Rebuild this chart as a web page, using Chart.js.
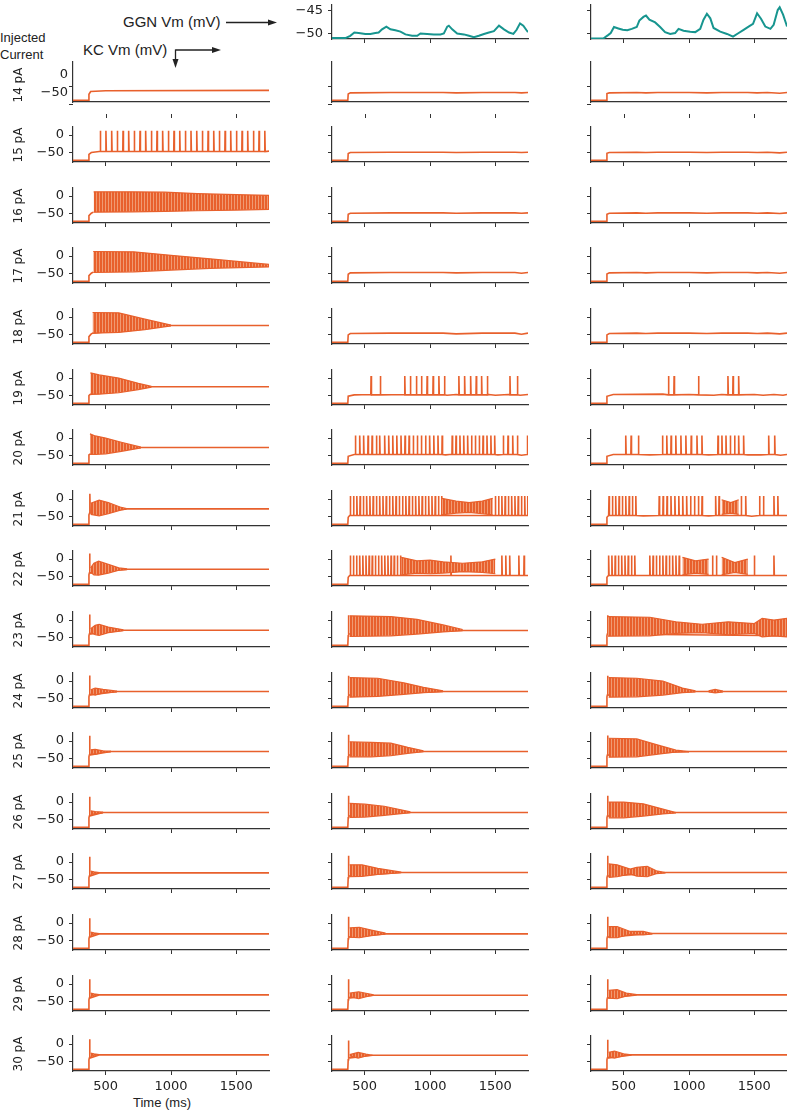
<!DOCTYPE html>
<html><head><meta charset="utf-8">
<script src="https://cdn.jsdelivr.net/npm/chart.js@4.4.0/dist/chart.umd.min.js"></script>
<style>
html,body{margin:0;padding:0;background:#fff;width:787px;height:1111px;overflow:hidden;position:relative}
canvas{position:absolute}
.t{position:absolute;font-family:"Liberation Sans",Arial,sans-serif;color:#222;white-space:nowrap}
.rl{position:absolute;font-family:"DejaVu Sans",sans-serif;font-size:12px;color:#222;width:60px;height:14px;line-height:14px;text-align:center;transform:rotate(-90deg);white-space:nowrap}
</style></head><body>
<div class="t" style="left:0px;top:30px;font-size:13px;line-height:16px">Injected</div>
<div class="t" style="left:0px;top:47px;font-size:13px;line-height:16px">Current</div>
<div class="t" style="left:123px;top:13px;font-size:15px;line-height:18px">GGN Vm (mV)</div>
<div class="t" style="left:83px;top:41px;font-size:15px;line-height:18px">KC Vm (mV)</div>
<div class="t" style="left:133px;top:1095px;font-size:13px;line-height:16px">Time (ms)</div>
<svg style="position:absolute;left:0;top:0;z-index:5" width="300" height="80">
 <line x1="226" y1="22.5" x2="269" y2="22.5" stroke="#222" stroke-width="1.3"/>
 <polygon points="277,22.5 268,19.5 268,25.5" fill="#222"/>
 <line x1="175.5" y1="49.5" x2="175.5" y2="60" stroke="#222" stroke-width="1.3"/>
 <polygon points="175.5,68 172.5,59 178.5,59" fill="#222"/>
 <line x1="175.5" y1="50" x2="213" y2="50" stroke="#222" stroke-width="1.3"/>
 <polygon points="221,50 212,47 212,53" fill="#222"/>
</svg>
<script>
// ---------------- DATA ----------------
const currents = [14,15,16,17,18,19,20,21,22,23,24,25,26,27,28,29,30];
const xTicks = [500, 1000, 1500];
const kcTicks = [-50, 0];
const ggnTicks = [-50, -45];

// GGN membrane potential (columns 2 and 3)
const ggnTime2 = [250,352,390,421,454,505,544,582,607,633,666,697,735,774,812,863,902,927,978,1029,1080,1106,1132,1144,1170,1208,1259,1298,1336,1374,1413,1451,1489,1528,1566,1605,1638,1663,1689,1714,1739,1750];
const ggnVm2 = [-51.0,-51.0,-50.5,-49.8,-49.9,-50.1,-50.1,-49.9,-49.8,-49.1,-48.5,-49.1,-49.3,-49.6,-50.2,-50.5,-50.5,-50.0,-50.1,-50.2,-50.2,-50.0,-48.5,-48.3,-49.1,-50.0,-50.2,-50.5,-50.8,-50.5,-50.1,-49.8,-49.5,-48.3,-49.1,-49.8,-50.1,-49.2,-47.8,-48.3,-49.3,-49.7];
const ggnTime3 = [250,344,383,401,426,459,493,528,562,600,620,651,671,697,741,779,817,856,894,920,958,1009,1048,1086,1111,1137,1163,1188,1239,1291,1337,1380,1418,1456,1490,1521,1551,1584,1623,1648,1679,1694,1720,1746,1750];
const ggnVm3 = [-51.1,-51.1,-50.3,-49.9,-48.6,-48.9,-49.2,-49.3,-49.0,-48.6,-47.2,-46.4,-46.1,-47.0,-47.6,-48.6,-49.7,-50.1,-49.9,-49.0,-49.4,-49.6,-49.7,-49.0,-47.0,-45.7,-46.7,-48.8,-49.6,-50.1,-50.7,-49.9,-49.2,-48.5,-47.9,-45.6,-46.8,-48.5,-49.0,-48.1,-44.9,-44.3,-45.9,-48.1,-48.5];

// KC traces, column 1 (KC alone): sub-threshold path [t, mV]
const c1Base = [
 [[250,-72],[369,-72],[372,-55],[385,-47],[500,-45],[1750,-44]],
 [[250,-72],[369,-72],[372,-55],[390,-50],[450,-47],[1750,-46]],
 [[250,-72],[369,-72],[372,-56],[390,-49],[406,-46]],
 [[250,-72],[369,-72],[372,-56],[390,-49],[404,-46]],
 [[250,-72],[369,-72],[372,-56],[388,-49],[399,-46],[1000,-24],[1750,-24]],
 [[250,-72],[369,-72],[372,-50],[380,-47],[850,-25],[1750,-25]],
 [[250,-72],[369,-72],[372,-48],[378,-46],[770,-27],[1750,-27]],
 [[250,-72],[369,-72],[372,-45],[660,-28],[1750,-28]],
 [[250,-72],[369,-72],[372,-45],[664,-29],[1750,-29]],
 [[250,-72],[369,-72],[372,-45],[636,-29],[1750,-29]],
 [[250,-72],[369,-72],[372,-45],[587,-30],[1750,-30]],
 [[250,-72],[369,-72],[372,-45],[540,-30],[1750,-30]],
 [[250,-72],[369,-72],[372,-45],[480,-30],[1750,-30]],
 [[250,-72],[369,-72],[372,-45],[450,-31],[1750,-31]],
 [[250,-72],[369,-72],[372,-45],[450,-31],[1750,-31]],
 [[250,-72],[369,-72],[372,-45],[450,-31],[1750,-31]],
 [[250,-72],[369,-72],[372,-45],[450,-31],[1750,-31]]
];
const c1Spikes = [
 [],
 [459,502,546,589,633,676,719,763,806,850,893,936,980,1023,1067,1110,1153,1197,1240,1284,1327,1370,1414,1457,1501,1544,1587,1631,1674,1718],
 [],[],[],[],[],
 [379],[377],[377],[377],[377],[377],[377],[377],[377],[377]
];
const c1Peak =   [0,12,0,0,0,0,0,15,16,16,16,15,15,15,14,14,14];
const c1Trough = [0,-47,0,0,0,0,0,-40,-40,-40,-40,-40,-40,-40,-40,-40,-40];
const c1Band = [
 [],[],
 [[[408,12,-46],[700,12,-45],[950,11,-44],[1200,7,-42],[1500,4,-40],[1750,2,-38]]],
 [[[405,13,-47],[715,12,-45],[1000,2,-40],[1300,-8,-35],[1750,-24,-31]]],
 [[[400,13,-46],[600,12,-44],[800,-6,-36],[1000,-23,-25]]],
 [[[383,15,-46],[450,9,-46],[600,0,-42],[750,-15,-33],[850,-24,-26]]],
 [[[380,12,-46],[420,6,-47],[500,0,-45],[620,-12,-38],[770,-26,-28]]],
 [[[385,-12,-44],[450,-3,-48],[520,-10,-42],[620,-24,-31],[660,-27,-29]]],
 [[[385,-25,-38],[410,-12,-45],[446,-6,-46],[520,-15,-40],[600,-25,-32],[664,-28,-30]]],
 [[[385,-25,-35],[420,-15,-42],[450,-12,-44],[520,-20,-36],[636,-28,-30]]],
 [[[385,-25,-35],[420,-20,-40],[480,-24,-34],[587,-29,-31]]],
 [[[385,-25,-35],[420,-24,-38],[480,-28,-32],[540,-29,-31]]],
 [[[385,-25,-36],[420,-27,-34],[480,-29,-31]]],
 [[[385,-26,-36],[410,-28,-32],[450,-30,-32]]],
 [[[385,-26,-36],[410,-28,-32],[450,-30,-32]]],
 [[[385,-26,-36],[410,-28,-32],[450,-30,-32]]],
 [[[385,-26,-36],[410,-28,-32],[450,-30,-32]]]
];

// KC traces, column 2
const c2Base = [
 [[250,-72],[371,-72],[374,-54],[390,-51],[700,-50],[1100,-50],[1200,-51],[1400,-50],[1650,-50],[1700,-51],[1750,-50]],
 [[250,-72],[371,-72],[374,-53],[390,-50],[700,-49],[1100,-49],[1200,-50],[1400,-49],[1650,-49],[1700,-50],[1750,-49]],
 [[250,-72],[371,-72],[374,-52],[390,-49],[700,-48],[1100,-48],[1200,-49],[1400,-48],[1650,-48],[1700,-49],[1750,-48]],
 [[250,-72],[371,-72],[374,-52],[390,-48],[700,-47],[1100,-47],[1200,-48],[1400,-47],[1650,-47],[1700,-49],[1750,-47]],
 [[250,-72],[371,-72],[374,-51],[390,-47],[700,-46],[1100,-46],[1200,-48],[1400,-46],[1650,-46],[1700,-49],[1750,-46]],
 [[250,-72],[371,-72],[374,-52],[420,-48],[540,-47],[800,-47],[1130,-49],[1200,-47],[1450,-47],[1500,-49],[1600,-47],[1690,-49],[1750,-47]],
 [[250,-72],[371,-72],[374,-52],[420,-47],[1120,-48],[1150,-47],[1520,-48],[1700,-49],[1750,-47]],
 [[250,-72],[371,-72],[374,-52],[385,-47],[1100,-47],[1480,-47],[1750,-47]],
 [[250,-72],[371,-72],[374,-52],[385,-47],[1100,-47],[1480,-47],[1750,-47]],
 [[250,-72],[371,-72],[374,-45],[1250,-30],[1750,-30]],
 [[250,-72],[371,-72],[374,-45],[1100,-30],[1750,-30]],
 [[250,-72],[371,-72],[374,-45],[950,-30],[1750,-30]],
 [[250,-72],[371,-72],[374,-45],[850,-30],[1750,-30]],
 [[250,-72],[371,-72],[374,-45],[780,-30],[1750,-30]],
 [[250,-72],[371,-72],[374,-45],[660,-31],[1750,-31]],
 [[250,-72],[371,-72],[374,-45],[569,-32],[1750,-32]],
 [[250,-72],[371,-72],[374,-45],[560,-32],[1750,-32]]
];
const c2Spikes = [
 [],[],[],[],[],
 [549,620,807,850,896,935,978,1024,1068,1111,1221,1265,1311,1354,1395,1439,1612,1669],
 [429,462,492,526,557,590,615,653,684,715,746,778,809,840,872,903,934,966,997,1029,1061,1093,1170,1199,1229,1258,1288,1318,1347,1377,1406,1436,1466,1495,1561,1597,1633,1669,1745],
 [390,415,440,465,490,515,540,565,590,615,640,665,690,715,740,765,790,815,840,865,890,915,940,965,990,1015,1040,1065,1090,1500,1525,1550,1575,1600,1625,1650,1675,1700,1725,1748],
 [390,414,438,462,486,510,534,558,582,606,630,654,678,702,726,750,774,1160,1550,1580,1610,1680,1720],
 [377],[377],[377],[377],[377],[377],[377],[377]
];
const c2Peak =   [0,0,0,0,0,6,7,9,10,14,15,18,18,18,18,14,10];
const c2Trough = [0,0,0,0,0,-48,-47,-47,-47,-40,-40,-40,-40,-40,-40,-40,-40];
const c2Band = [
 [],[],[],[],[],[],[],
 [[[1090,2,-45],[1200,-6,-40],[1300,-10,-38],[1400,-6,-42],[1480,2,-45]]],
 [[[780,5,-45],[900,-5,-40],[1000,-3,-42],[1100,-8,-40],[1250,-12,-36],[1400,-8,-38],[1500,0,-42]]],
 [[[385,12,-47],[700,10,-45],[900,2,-40],[1100,-14,-34],[1250,-27,-30]]],
 [[[385,10,-46],[600,8,-44],[800,-5,-38],[950,-18,-33],[1100,-28,-30]]],
 [[[385,-2,-45],[550,-4,-45],[700,-6,-42],[830,-18,-35],[950,-28,-30]]],
 [[[385,-4,-44],[500,-6,-43],[650,-12,-38],[850,-28,-30]]],
 [[[385,-8,-42],[480,-8,-41],[600,-18,-35],[780,-29,-30]]],
 [[[385,-14,-40],[460,-12,-42],[550,-20,-36],[660,-29,-31]]],
 [[[385,-26,-36],[454,-22,-42],[520,-27,-35],[569,-31,-32]]],
 [[[385,-30,-34],[450,-24,-40],[510,-29,-34],[560,-32,-32]]]
];

// KC traces, column 3
const c3Base = [
 [[250,-72],[369,-72],[372,-53],[390,-51],[600,-50],[670,-51],[760,-50],[1000,-50],[1137,-51],[1250,-50],[1450,-50],[1521,-51],[1600,-50],[1694,-52],[1750,-50]],
 [[250,-72],[369,-72],[372,-52],[390,-50],[600,-49],[670,-50],[760,-49],[1000,-49],[1137,-50],[1250,-49],[1450,-49],[1521,-50],[1600,-49],[1694,-51],[1750,-49]],
 [[250,-72],[369,-72],[372,-52],[390,-49],[600,-48],[670,-49],[760,-48],[1000,-48],[1137,-49],[1250,-48],[1450,-48],[1521,-49],[1600,-48],[1694,-50],[1750,-48]],
 [[250,-72],[369,-72],[372,-51],[390,-48],[600,-47],[670,-48],[760,-47],[1000,-47],[1137,-48],[1250,-47],[1450,-47],[1521,-48],[1600,-47],[1694,-49],[1750,-47]],
 [[250,-72],[369,-72],[372,-51],[390,-47],[600,-46],[670,-47],[760,-46],[1000,-46],[1137,-47],[1250,-46],[1450,-46],[1521,-47],[1600,-46],[1694,-48],[1750,-46]],
 [[250,-72],[369,-72],[372,-52],[420,-47],[800,-46],[1000,-47],[1190,-49],[1250,-47],[1500,-47],[1567,-49],[1650,-47],[1720,-49],[1750,-47]],
 [[250,-72],[369,-72],[372,-52],[420,-47],[700,-48],[1150,-48],[1450,-48],[1550,-48],[1700,-49],[1750,-47]],
 [[250,-72],[369,-72],[372,-52],[385,-47],[650,-48],[1150,-48],[1480,-49],[1750,-47]],
 [[250,-72],[369,-72],[372,-52],[385,-47],[1750,-47]],
 [[250,-72],[369,-72],[372,-45],[1750,-45]],
 [[250,-72],[369,-72],[372,-45],[1050,-30],[1750,-30]],
 [[250,-72],[369,-72],[372,-45],[1000,-30],[1750,-30]],
 [[250,-72],[369,-72],[372,-45],[900,-30],[1750,-30]],
 [[250,-72],[369,-72],[372,-45],[820,-30],[1750,-30]],
 [[250,-72],[369,-72],[372,-45],[720,-30],[1750,-30]],
 [[250,-72],[369,-72],[372,-45],[600,-31],[1750,-31]],
 [[250,-72],[369,-72],[372,-45],[560,-31],[1750,-31]]
];
const c3Spikes = [
 [],[],[],[],[],
 [843,886,1073,1298,1337,1380],
 [516,557,613,797,830,863,899,938,976,1017,1061,1099,1222,1252,1283,1316,1349,1380,1418,1610,1656],
 [388,414,439,465,490,516,542,567,593,772,802,832,862,892,922,952,982,1012,1042,1072,1100,1204,1230,1400,1434,1540,1570,1650,1680],
 [385,410,435,460,485,510,535,560,585,700,725,750,775,800,825,850,875,900,925,1180,1210,1500,1650],
 [377],[377],[377],[377],[377],[377],[377],[377]
];
const c3Peak =   [0,0,0,0,0,6,7,9,10,14,15,16,18,18,18,14,12];
const c3Trough = [0,0,0,0,0,-48,-47,-47,-47,-40,-40,-40,-40,-40,-40,-40,-40];
const c3Band = [
 [],[],[],[],[],[],[],
 [[[1250,-2,-44],[1320,-10,-40],[1380,-2,-44]]],
 [[[950,5,-45],[1050,-5,-40],[1150,0,-44]],[[1250,5,-45],[1350,-10,-38],[1450,0,-44]]],
 [[[380,10,-46],[700,8,-45],[900,-5,-38],[1100,-12,-36],[1300,-5,-42],[1500,-10,-38],[1560,5,-48],[1650,0,-45],[1750,5,-48]]],
 [[[385,10,-46],[600,8,-45],[800,0,-40],[950,-20,-33],[1050,-28,-31]],[[1150,-28,-31],[1200,-24,-34],[1260,-29,-31]]],
 [[[385,8,-46],[600,6,-45],[750,-10,-38],[900,-26,-31],[1000,-30,-31]]],
 [[[385,0,-45],[500,0,-45],[650,-5,-40],[800,-20,-34],[900,-30,-31]]],
 [[[385,-5,-44],[450,-8,-42],[550,-20,-34],[600,-15,-40],[680,-12,-42],[750,-25,-33],[820,-30,-31]]],
 [[[385,-10,-42],[450,-10,-42],[550,-24,-32],[650,-24,-34],[720,-30,-31]]],
 [[[385,-18,-40],[450,-16,-42],[520,-26,-34],[600,-30,-31]]],
 [[[385,-24,-36],[430,-20,-40],[500,-28,-33],[560,-31,-31]]]
];

// ---------------- DRAWING ----------------
const OR = '#e8602c';
const TEAL = '#17958f';
const AX = '#333333';
const COLX = [73, 332, 591];
const PW = 196;
const axisY = k => Math.round(101.5 + 60.6 * k);
const minus = v => (v < 0 ? '\u2212' + Math.abs(v) : String(v));

// striped fill standing for densely packed spikes
const pc = document.createElement('canvas');
pc.width = 3; pc.height = 4;
const pctx = pc.getContext('2d');
pctx.fillStyle = OR; pctx.fillRect(0, 0, 2, 4);
pctx.fillStyle = '#f09a72'; pctx.fillRect(2, 0, 1, 4);
const ORF = pctx.createPattern(pc, 'repeat');

function makeChart(o) {
  const padL = 60, padT = 14, padR = 4;
  const W = padL + PW + padR, H = padT + o.plotH + o.bottomH;
  const cv = document.createElement('canvas');
  cv.width = W; cv.height = H;
  cv.style.left = (o.left - padL) + 'px';
  cv.style.top = (o.plotTop - padT) + 'px';
  cv.style.width = W + 'px'; cv.style.height = H + 'px';
  document.body.appendChild(cv);
  const font = {family: 'DejaVu Sans', size: 13};
  const plugins = [];
  if (o.detached) {
    plugins.push({id: 'detached', afterDraw(c) {
      const ctx = c.ctx, xs = c.scales.x, ys = c.scales.y, b = c.chartArea.bottom, l = c.chartArea.left;
      ctx.save(); ctx.strokeStyle = AX; ctx.lineWidth = 1;
      xTicks.forEach(v => { const px = Math.round(xs.getPixelForValue(v)) + 0.5;
        ctx.beginPath(); ctx.moveTo(px, b + 12); ctx.lineTo(px, b + 16); ctx.stroke(); });
      kcTicks.forEach(v => { const py = Math.round(ys.getPixelForValue(v) + 11.5) + 0.5;
        ctx.beginPath(); ctx.moveTo(l - 4, py); ctx.lineTo(l, py); ctx.stroke(); });
      ctx.restore();
    }});
  }
  new Chart(cv, {
    type: 'line',
    data: {datasets: o.datasets},
    plugins,
    options: {
      responsive: false, animation: false, devicePixelRatio: 1,
      layout: {padding: {left: 0, top: padT, right: padR, bottom: 0}},
      plugins: {legend: {display: false}, tooltip: {enabled: false}},
      elements: {point: {radius: 0}, line: {tension: 0}},
      scales: {
        x: {type: 'linear', min: 250, max: 1750, offset: false,
          afterBuildTicks: s => { s.ticks = xTicks.map(v => ({value: v})); },
          afterFit: s => { s.height = o.bottomH; },
          grid: {display: true, drawOnChartArea: false, drawTicks: !o.detached, tickLength: 4, tickColor: AX, tickWidth: 1},
          border: {display: true, color: AX, width: 1.2},
          ticks: {color: o.xLabels ? '#222' : 'rgba(0,0,0,0)', font, padding: 4, maxRotation: 0, autoSkip: false, callback: v => String(v)}
        },
        y: {type: 'linear', min: o.ymin, max: o.ymax,
          afterBuildTicks: s => { s.ticks = o.yTicks.map(v => ({value: v})); },
          afterFit: s => { s.width = padL; },
          grid: {display: true, drawOnChartArea: false, drawTicks: !o.detached, tickLength: 4, tickColor: AX, tickWidth: 1},
          border: {display: true, color: AX, width: 1.2},
          ticks: {color: o.yLabels ? '#222' : 'rgba(0,0,0,0)', font, padding: 5, autoSkip: false, callback: v => minus(v)}
        }
      }
    }
  });
}

function kcDatasets(base, spikes, peak, trough, bands) {
  const ds = [];
  bands.forEach(seg => {
    ds.push({data: seg.map(p => ({x: p[0], y: p[1]})), borderColor: OR, borderWidth: 1.2, fill: false, order: 0});
    ds.push({data: seg.map(p => ({x: p[0], y: p[2]})), borderColor: OR, borderWidth: 1.2, backgroundColor: ORF, fill: '-1', order: 0});
  });
  const pts = base.map(p => ({x: p[0], y: p[1]}));
  spikes.forEach(ts => { pts.push({x: ts - 2, y: trough}, {x: ts, y: peak}, {x: ts + 3, y: trough}); });
  pts.sort((a, b) => a.x - b.x);
  ds.push({data: pts, borderColor: OR, borderWidth: 1.6, fill: false, order: 5});
  return ds;
}

// GGN panels
[[ggnTime2, ggnVm2, 1, true], [ggnTime3, ggnVm3, 2, false]].forEach(([tt, vv, c, lab]) => {
  makeChart({left: COLX[c], plotTop: 5, plotH: 34, bottomH: 16, ymin: -51.2, ymax: -43.8,
    yTicks: ggnTicks, yLabels: lab, xLabels: false,
    datasets: [{data: tt.map((t, i) => ({x: t, y: vv[i]})), borderColor: TEAL, borderWidth: 2, fill: false}]});
});

// KC panels
const cols = [
  [c1Base, c1Spikes, c1Peak, c1Trough, c1Band],
  [c2Base, c2Spikes, c2Peak, c2Trough, c2Band],
  [c3Base, c3Spikes, c3Peak, c3Trough, c3Band]
];
currents.forEach((cur, k) => {
  const ay = axisY(k);
  const plotH = k === 0 ? 40 : 35;
  const last = k === currents.length - 1;
  cols.forEach(([B, S, P, T, BD], c) => {
    makeChart({left: COLX[c], plotTop: ay - plotH, plotH, bottomH: last ? 34 : (k === 0 ? 20 : 16),
      ymin: -77, ymax: k === 0 ? 37 : 23, yTicks: kcTicks, yLabels: c === 0, xLabels: last,
      detached: k === 0,
      datasets: kcDatasets(B[k], S[k], P[k], T[k], BD[k])});
  });
  const d = document.createElement('div');
  d.className = 'rl';
  d.textContent = cur + ' pA';
  d.style.left = (18 - 30) + 'px';
  d.style.top = (ay - 17.5 - 7) + 'px';
  document.body.appendChild(d);
});
</script>
</body></html>
